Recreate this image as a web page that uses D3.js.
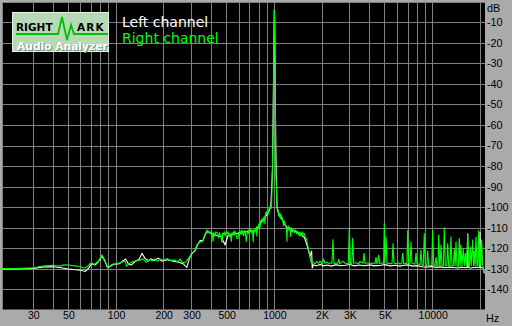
<!DOCTYPE html>
<html><head><meta charset="utf-8">
<script src="https://cdn.jsdelivr.net/npm/d3@7"></script>
<style>
html,body{margin:0;padding:0;background:#aaaaaa;overflow:hidden;}
svg{display:block;}
</style></head><body>
<svg id="c" width="512" height="326"></svg>
<script>
// ---- data ----
const xTickValues = [30,50,100,200,300,500,1000,2000,3000,5000,10000];
const xTickLabels = ["30","50","100","200","300","500","1000","2K","3K","5K","10000"];
const xGridValues = [30,40,50,60,70,80,90,100,200,300,400,500,600,700,800,900,1000,2000,3000,4000,5000,6000,7000,8000,9000,10000,20000];
const yTickValues = [-10,-20,-30,-40,-50,-60,-70,-80,-90,-100,-110,-120,-130,-140];
const yGridValues = [0,-10,-20,-30,-40,-50,-60,-70,-80,-90,-100,-110,-120,-130,-140];
const seriesNames = ["Left channel","Right channel"];

const leftChannel = [
[19,-129.8],[25,-129.7],[30,-129.5],[35,-128.8],[40,-128.7],[45,-129.2],[50,-129.8],[55,-130.2],[60,-130.4],[64,-131.0],
[67,-129.5],[70,-127.2],[74,-127.8],[77,-126.5],[81.5,-123.5],[85,-126],[88,-128.8],[92,-128.5],[97,-127.5],[105,-127.3],
[110,-126.0],[115,-125.0],[120,-127.5],[125,-127.8],[132,-126.2],[140,-125.0],[146,-122.2],[152,-124.5],[160,-125.8],[166,-124.9],
[175,-125.6],[185,-124.5],[195,-126.0],[210,-125.3],[230,-126.0],[250,-126.5],[265,-127.2],[280,-129.0],[290,-125.0],[300,-122.5],
[315,-121.0],[325,-118.5],[340,-116.0],[354,-116.0],[365,-113.3],[375,-111.5],[400,-112.5],[430,-113.5],[460,-114.0],[488,-118.0],
[510,-113.5],[560,-112.8],[620,-112.0],[700,-111.5],[760,-111.0],[800,-109.0],[840,-106.0],[880,-104.5],[920,-102.0],[950,-99.5],
[975,-80],[990,-30],[1000,-3.8],[1008,-20],[1020,-70],[1040,-100],[1070,-104],[1100,-104.5],[1150,-107.5],[1200,-109.5],
[1280,-110.5],[1350,-111.5],[1450,-112.8],[1550,-114.5],[1620,-119.0],[1680,-123.5],[1720,-121.0],[1735,-129.5],[1760,-127.8],[1850,-128.2],
[1950,-127.6],[2050,-128.3],[2150,-127.9],[2300,-128.4],[2450,-127.7],[2600,-128.2],[2800,-128.0],[3000,-127.6],[3200,-128.3],[3450,-127.9],
[3700,-128.2],[4000,-127.8],[4300,-128.3],[4700,-128.0],[5000,-127.7],[5400,-128.3],[5800,-128.0],[6200,-128.4],[6600,-128.0],[7000,-127.8],
[7500,-128.4],[8000,-128.2],[8600,-128.7],[9200,-128.9],[9800,-128.6],[10500,-129.0],[11200,-128.8],[12000,-129.2],[12800,-128.9],[13600,-129.1],
[14400,-129.3],[15200,-128.9],[16000,-129.2],[16540,-129.0],[16652,-112.5],[16760,-129.1],[17500,-129.3],[18500,-129.0],[19400,-129.2],[19800,-129.0],
[19910,-111.7],[20020,-129.1],[20600,-129.2],[20950,-129.5],[21107,-131.5],[21600,-132.0]
];

const rightChannel = [
[19,-129.6],[22,-129.6],[25,-129.5],[28,-129.4],[30,-129.3],[33,-128.6],[36,-128.3],[40,-128.0],[44,-128.4],[47,-127.8],
[50,-127.9],[55,-128.3],[59,-128.6],[63,-129.4],[66,-128.6],[69,-127.0],[73,-127.5],[77,-126.2],[81.5,-123.0],[85,-125.5],
[89,-129.5],[94,-127.6],[101,-127.0],[106,-126.8],[114,-126.0],[117,-128.5],[122,-127.0],[127,-126.3],[132,-126.0],[141,-125.5],
[148,-124.9],[155,-126.5],[164,-125.2],[170,-125.8],[176,-124.8],[183,-126.0],[190,-125.0],[200,-125.4],[210,-124.8],[220,-125.6],
[236,-125.5],[245,-126.4],[254,-125.0],[262,-126.5],[272,-126.8],[281,-125.5],[293,-123.8],[300,-122.0],[306,-121.8],[315,-120.6],
[325,-118.0],[339,-116.5],[347,-116.8],[354,-115.7],[365,-113.0],[375,-111.0],[380,-112.2],[385,-111.5],[392,-112.5],[400,-111.5],
[405,-113.0],[410,-116.5],[414,-112.0],[420,-113.5],[427,-111.8],[434,-112.0],[440,-113.8],[445,-114.5],[450,-112.0],[454,-112.8],
[460,-114.0],[467,-117.0],[472,-112.5],[478,-113.0],[483,-112.0],[488,-113.5],[495,-112.2],[502,-112.5],[509,-111.8],[515,-112.8],
[520,-114.2],[525,-112.3],[535,-116.5],[540,-112.0],[545,-113.5],[552,-112.0],[558,-113.0],[564,-111.5],[572,-112.6],[580,-114.8],
[590,-115.0],[595,-111.8],[601,-113.0],[607,-112.4],[614,-111.5],[620,-113.2],[625,-110.8],[632,-112.5],[640,-113.8],[646,-111.2],
[652,-111.5],[658,-113.0],[665,-116.5],[670,-113.5],[678,-111.5],[684,-112.3],[690,-110.5],[696,-112.0],[702,-111.2],[710,-110.5],
[720,-112.5],[728,-110.8],[735,-116.8],[743,-111.0],[749,-112.0],[755,-110.2],[762,-111.5],[770,-109.0],[775,-114.0],[781,-110.5],
[788,-110.0],[794,-108.5],[800,-108.0],[806,-110.5],[812,-109.5],[817,-108.0],[822,-106.0],[829,-107.5],[836,-105.2],[843,-106.5],
[850,-107.0],[856,-105.0],[862,-104.5],[868,-106.0],[873,-108.0],[879,-103.5],[885,-102.0],[892,-103.0],[899,-101.5],[907,-102.5],
[915,-103.0],[922,-101.0],[930,-100.0],[938,-99.8],[945,-98.7],[952,-100.5],[960,-99.5],
[970,-85],[985,-55],[993,-20],[1000,-3.5],[1007,-13],[1015,-50],[1025,-85],
[1039,-99.5],[1047,-100.5],[1055,-101],[1062,-103],[1070,-104],[1078,-102.5],[1086,-104.5],[1093,-105.5],[1100,-103],[1108,-104.5],
[1115,-106],[1124,-105.2],[1134,-106.8],[1142,-108.5],[1150,-108],[1160,-106.8],[1170,-107.5],[1180,-108.8],[1190,-109.5],[1196,-112.5],
[1202,-116.5],[1208,-110.5],[1215,-109.8],[1225,-108.8],[1235,-110.5],[1245,-109.8],[1256,-111.0],[1263,-112.2],[1270,-114.2],[1280,-109.5],
[1290,-110.5],[1300,-112.0],[1312,-110.8],[1325,-111.5],[1340,-112.0],[1355,-110.8],[1370,-111.2],[1380,-112.8],[1390,-112.0],[1405,-111.5],
[1420,-113.0],[1435,-111.8],[1450,-114.0],[1465,-112.2],[1480,-112.8],[1490,-113.8],[1505,-112.0],[1517,-112.5],[1535,-113.2],[1550,-112.8],
[1562,-114.0],[1580,-114.5],[1600,-115.5],[1632,-119.0],[1655,-121.5],[1680,-124.0],[1705,-126.5],[1729,-127.0],[1760,-126.6],[1806,-127.3],
[1850,-126.2],[1900,-127.0],[1942,-126.0],[2000,-127.2],[2050,-125.2],[2089,-127.0],[2150,-126.5],[2200,-127.3],[2246,-126.8],[2310,-127.0],
[2346,-115.4],[2380,-127.2],[2450,-126.9],[2515,-127.0],[2550,-125.0],[2590,-127.2],[2700,-126.0],[2800,-127.0],[2930,-127.4],[2976,-109.5],
[3020,-127.2],[3085,-126.9],[3127,-114.7],[3170,-127.0],[3300,-126.8],[3400,-127.3],[3478,-126.2],[3630,-127.0],[3685,-122.0],[3740,-127.1],
[3900,-126.8],[4022,-127.3],[4200,-126.9],[4330,-127.1],[4387,-124.0],[4440,-127.0],[4500,-127.0],[4562,-123.0],[4630,-127.2],[4850,-126.8],
[4900,-127.1],[4950,-107.6],[5010,-127.0],[5074,-114.0],[5150,-127.2],[5300,-126.9],[5450,-127.3],[5540,-127.0],[5619,-117.3],[5700,-127.0],
[5900,-127.2],[6050,-126.8],[6219,-127.4],[6380,-127.0],[6469,-122.0],[6560,-127.2],[6800,-127.0],[6870,-127.1],[6956,-110.9],[7050,-127.3],
[7200,-127.0],[7298,-116.5],[7400,-127.1],[7740,-127.4],[7850,-122.0],[7960,-127.2],[8320,-127.6],[8440,-120.5],[8560,-127.8],[8730,-128.1],
[8856,-112.4],[8990,-128.0],[9180,-128.2],[9306,-121.0],[9440,-128.1],[9860,-128.1],[10007,-110.9],[10160,-128.3],[10350,-128.3],[10496,-124.0],
[10640,-128.2],[10800,-128.2],[10921,-113.0],[11080,-128.1],[11140,-128.2],[11292,-118.0],[11450,-128.3],[11680,-128.3],[11846,-109.5],[12020,-128.4],
[12280,-128.2],[12447,-117.3],[12620,-128.3],[12880,-128.2],[13059,-114.0],[13240,-128.3],[13520,-128.2],[13700,-120.0],[13880,-128.3],[14042,-116.5],
[14240,-128.4],[14530,-128.5],[14734,-114.7],[14940,-128.4],[15100,-118.0],[15320,-128.3],[15617,-120.0],[15840,-128.4],[16080,-122.0],[16320,-128.3],
[16652,-113.0],[16890,-128.5],[17060,-128.4],[17296,-119.0],[17530,-128.4],[17906,-115.5],[18120,-128.4],[18323,-121.0],[18530,-128.3],[18786,-114.0],
[19050,-128.4],[19270,-128.3],[19543,-111.0],[19720,-128.4],[19910,-117.0],[20130,-128.3],[20415,-115.5],[20700,-128.2],[20950,-129.0],[21107,-131.0],
[21600,-131.5]
];

// ---- chart ----
const W = 512, H = 326;
const plot = {x0: 2, x1: 485, y0: 2, y1: 309.5};
const x = d3.scaleLog().domain([20, 20000]).range([5.4, 480.3]);
const y = d3.scaleLinear().domain([0, -150]).range([2.1, 310.5]);
const font = "'Liberation Sans', Arial, sans-serif";
const svg = d3.select("#c");

svg.append("rect").attr("width", W).attr("height", H).attr("fill", "#aaaaaa");
svg.append("rect").attr("x", plot.x0).attr("y", plot.y0)
  .attr("width", plot.x1 - plot.x0).attr("height", plot.y1 - plot.y0).attr("fill", "#000");

svg.append("defs").append("clipPath").attr("id", "clip").append("rect")
  .attr("x", plot.x0).attr("y", plot.y0).attr("width", plot.x1 - plot.x0).attr("height", plot.y1 - plot.y0);

const grid = svg.append("g").attr("stroke", "#808080").attr("stroke-width", 1).attr("shape-rendering", "crispEdges");
grid.selectAll("line.v").data(xGridValues).join("line").attr("class", "v")
  .attr("x1", d => Math.floor(x(d)) + 0.5).attr("x2", d => Math.floor(x(d)) + 0.5)
  .attr("y1", plot.y0).attr("y2", plot.y1);
grid.append("line").attr("x1", plot.x0 + 0.5).attr("x2", plot.x0 + 0.5).attr("y1", plot.y0).attr("y2", plot.y1);
grid.selectAll("line.h").data(yGridValues).join("line").attr("class", "h")
  .attr("y1", d => Math.floor(y(d)) + 0.5).attr("y2", d => Math.floor(y(d)) + 0.5)
  .attr("x1", plot.x0).attr("x2", plot.x1);

const line = d3.line().x(d => x(d[0])).y(d => y(d[1]));
const curves = svg.append("g").attr("clip-path", "url(#clip)").attr("fill", "none").attr("stroke-width", 1.1)
  .attr("stroke-linejoin", "miter");
curves.append("path").datum(leftChannel).attr("d", line).attr("stroke", "#ffffff");
curves.append("path").datum(rightChannel).attr("d", line).attr("stroke", "#00ff00");

// axes
const yAxis = d3.axisRight(y).tickValues(yTickValues).tickSize(0).tickPadding(0).tickFormat(d => String(d));
const gy = svg.append("g").attr("transform", "translate(487,-0.5)").call(yAxis);
gy.select(".domain").remove();
gy.selectAll("text").attr("font-family", font).attr("font-size", "10.8px").attr("fill", "#000");

const xAxis = d3.axisBottom(x).tickValues(xTickValues).tickSize(0).tickPadding(3)
  .tickFormat((d, i) => xTickLabels[i]);
const gx = svg.append("g").attr("transform", "translate(0,309)").call(xAxis);
gx.select(".domain").remove();
gx.selectAll("text").attr("font-family", font).attr("font-size", "10.5px").attr("fill", "#000");

svg.append("text").attr("x", 487).attr("y", 11.5).attr("font-family", font).attr("font-size", "10.8px").text("dB");
svg.append("text").attr("x", 486).attr("y", 322).attr("font-family", font).attr("font-size", "10.8px").text("Hz");

// legend
const legendColors = ["#ffffff", "#00ff00"];
svg.selectAll("text.leg").data(seriesNames).join("text").attr("class", "leg")
  .attr("x", 122).attr("y", (d, i) => 27 + i * 16)
  .attr("font-family", "'DejaVu Sans', Verdana, sans-serif").attr("font-size", "14px")
  .attr("fill", (d, i) => legendColors[i]).text(d => d);

// logo
const logo = svg.append("g");
logo.append("rect").attr("x", 12.5).attr("y", 12.5).attr("width", 96).attr("height", 39)
  .attr("fill", "#b7d9b7").attr("stroke", "#eeeeee");
logo.append("text").attr("x", 16).attr("y", 31).attr("font-family", "'DejaVu Sans', sans-serif")
  .attr("font-weight", "bold").attr("font-size", "10.5px").attr("fill", "#000").text("RIGHT");
logo.append("text").attr("x", 77).attr("y", 31).attr("font-family", "'DejaVu Sans', sans-serif")
  .attr("font-weight", "bold").attr("font-size", "10.5px").attr("letter-spacing", "1.2px").attr("fill", "#000").text("ARK");
const logoWave = [[16,34],[58,34],[62,17],[67,40],[71,25],[74,34],[108,34]];
logo.append("path").attr("d", d3.line()(logoWave)).attr("fill", "none").attr("stroke", "#00c000").attr("stroke-width", 1.8);
logo.append("text").attr("x", 18).attr("y", 50.5).attr("font-family", "'DejaVu Sans', sans-serif")
  .attr("font-weight", "bold").attr("font-size", "10.7px").attr("fill", "#6e8e6e").text("Audio Analyzer");
logo.append("text").attr("x", 17).attr("y", 49.5).attr("font-family", "'DejaVu Sans', sans-serif")
  .attr("font-weight", "bold").attr("font-size", "10.7px").attr("fill", "#ffffff").text("Audio Analyzer");
</script>
</body></html>
